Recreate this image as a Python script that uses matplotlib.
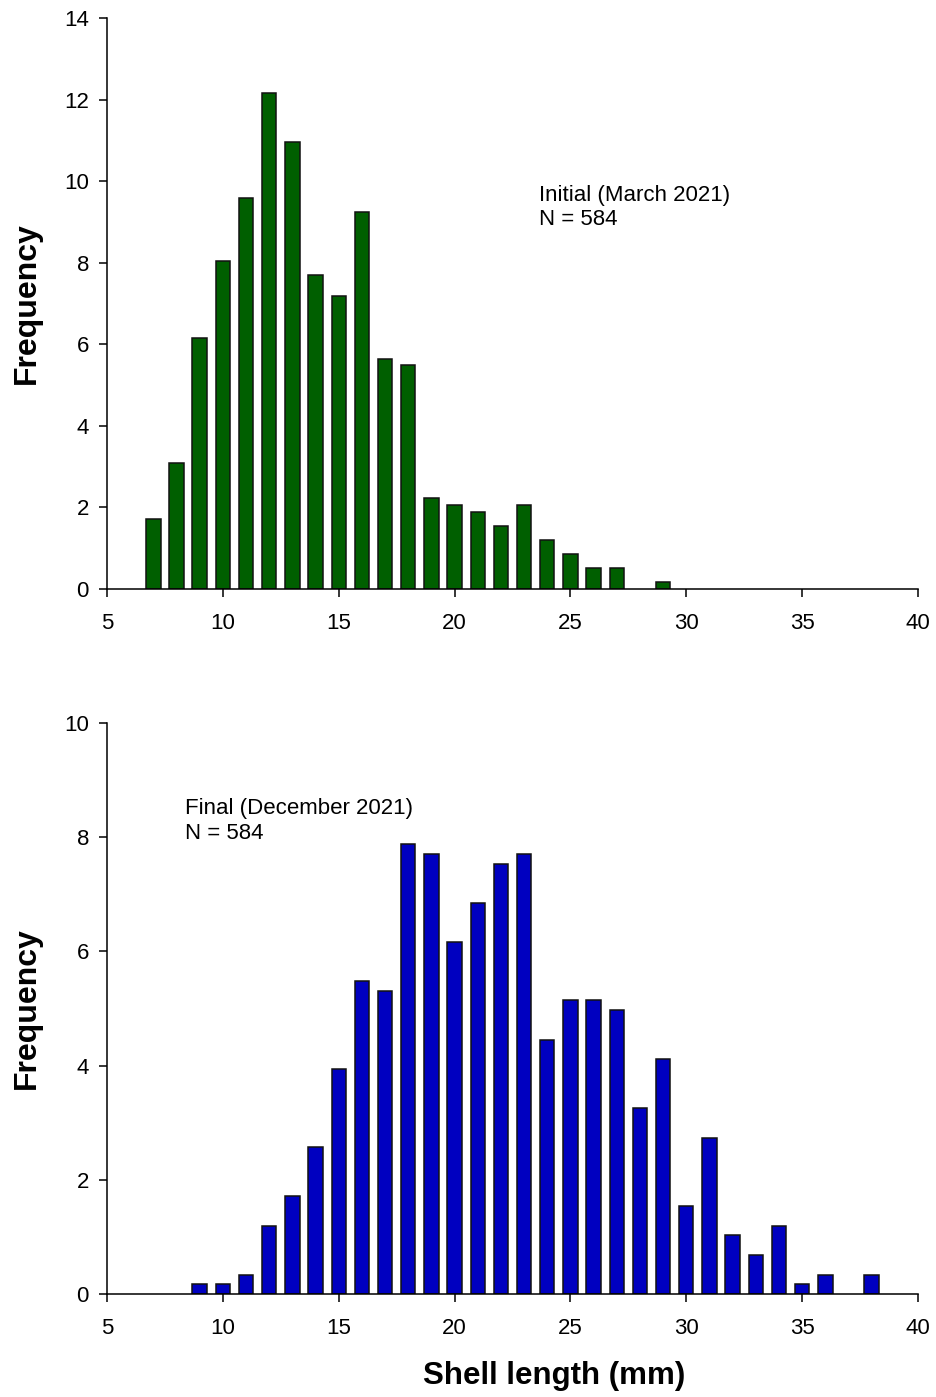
import matplotlib
matplotlib.use("Agg")
import matplotlib.pyplot as plt
import numpy as np

plt.rcParams['font.family'] = ['Liberation Sans', 'DejaVu Sans']

# Shell length classes (mm) and frequencies (%)
initial_lengths = [7, 8, 9, 10, 11, 12, 13, 14, 15, 16, 17, 18, 19, 20, 21, 22, 23, 24, 25, 26, 27, 29]
initial_freq = [1.71, 3.08, 6.16, 8.05, 9.59, 12.16, 10.96, 7.71, 7.19, 9.25, 5.65, 5.48,
                2.23, 2.05, 1.88, 1.54, 2.05, 1.20, 0.86, 0.51, 0.51, 0.17]

final_lengths = [9, 10, 11, 12, 13, 14, 15, 16, 17, 18, 19, 20, 21, 22, 23, 24, 25, 26, 27,
                 28, 29, 30, 31, 32, 33, 34, 35, 36, 38]
final_freq = [0.17, 0.17, 0.34, 1.20, 1.71, 2.57, 3.94, 5.48, 5.31, 7.88, 7.71, 6.16, 6.85,
              7.53, 7.71, 4.45, 5.14, 5.14, 4.97, 3.25, 4.11, 1.54, 2.74, 1.03, 0.68, 1.20,
              0.17, 0.34, 0.34]

xticks = [5, 10, 15, 20, 25, 30, 35, 40]
top_yticks = [0, 2, 4, 6, 8, 10, 12, 14]
bottom_yticks = [0, 2, 4, 6, 8, 10]

fig = plt.figure(figsize=(9.36, 13.97), dpi=100)
ax1 = fig.add_axes([0.1143, 0.5784, 0.8665, 0.4087])
ax2 = fig.add_axes([0.1143, 0.0737, 0.8665, 0.4088])

def style(ax, yticks):
    ax.set_xlim(5, 40)
    ax.set_ylim(0, yticks[-1])
    ax.set_xticks(xticks)
    ax.set_yticks(yticks)
    ax.spines['top'].set_visible(False)
    ax.spines['right'].set_visible(False)
    for s in ['left', 'bottom']:
        ax.spines[s].set_linewidth(1.1)
    ax.tick_params(direction='out', length=6, width=1.1, labelsize=16)
    ax.tick_params(axis='y', pad=7)
    ax.tick_params(axis='x', pad=11)
    ax.set_ylabel('Frequency', fontsize=23, fontweight='bold', labelpad=16)

ax1.bar(initial_lengths, initial_freq, width=0.62, color='#005f00', edgecolor='#111111', linewidth=1.1, zorder=2)
style(ax1, top_yticks)
ax1.text(23.64, 9.90, 'Initial (March 2021)\nN = 584', fontsize=16, va='top', ha='left', linespacing=1.2)

ax2.bar(final_lengths, final_freq, width=0.62, color='#0000c0', edgecolor='#111111', linewidth=1.1, zorder=2)
style(ax2, bottom_yticks)
ax2.text(8.37, 8.68, 'Final (December 2021)\nN = 584', fontsize=16, va='top', ha='left', linespacing=1.2)
ax2.set_xlabel('Shell length (mm)', fontsize=22.5, fontweight='bold')
ax2.xaxis.set_label_coords(0.551, -0.118)

fig.savefig('out.png', dpi=100)
